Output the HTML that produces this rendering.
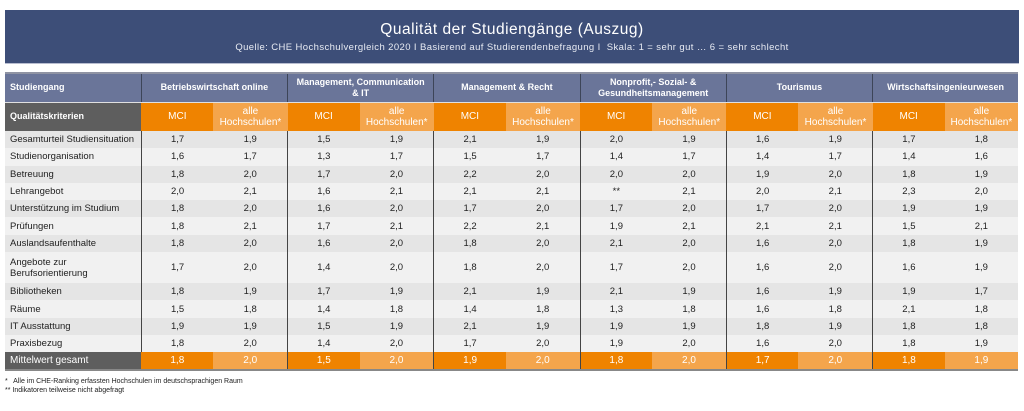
<!DOCTYPE html>
<html><head><meta charset="utf-8"><style>
*{margin:0;padding:0;box-sizing:border-box}
body{width:1024px;height:411px;background:#fff;font-family:"Liberation Sans","DejaVu Sans",sans-serif;position:relative;overflow:hidden}
.title{position:absolute;left:5px;top:10px;width:1014px;height:54px;background:#3d4e78;color:#fff;text-align:center;border-bottom:1px solid #b8bdd0}
.title .t{font-size:15.5px;margin-top:11px;letter-spacing:0.5px}
.title .s{font-size:9.5px;margin-top:3px;letter-spacing:0.4px;color:#e8ebf3}
table{position:absolute;left:5px;top:72px;border-collapse:collapse;table-layout:fixed;width:1013px;font-size:9.5px}
td{text-align:center;vertical-align:middle;padding:0;line-height:11px;color:#222}
td.l{text-align:left;padding-left:5px}
tr.h1 td{background:#6a7599;color:#fff;font-weight:bold;font-size:9px;height:29px;border-left:1px solid #3d4558;border-bottom:1px solid #e0e0e0}
tr.h1 td:first-child{border-left:none}
tr.h2 td{height:29px;color:#fff;font-size:10px}
tr.h2 td.g{background:#5e5e5e;font-weight:bold;font-size:9px}
.o{background:#ef8300}
.p{background:#f4a54c}
.b{border-left:1px solid #444}
tr.d td{height:17.3px}
tr.d:nth-child(odd) td{background:#e5e5e5}
tr.d:nth-child(even) td{background:#f1f1f1}
tr.d.tall td{height:31px}
tr.m td{height:17.3px;color:#fff;font-size:10px}
tr.m td.g{background:#5e5e5e}
tr.m td.o{background:#ef8300}
tr.m td.p{background:#f4a54c}
table{border-top:2px solid #8f93a3;border-bottom:2px solid #888}
.foot{position:absolute;left:5px;top:377px;font-size:7px;color:#222;line-height:9px}
</style></head><body>
<div class="title"><div class="t">Qualität der Studiengänge (Auszug)</div><div class="s">Quelle: CHE Hochschulvergleich 2020 I Basierend auf Studierendenbefragung I &nbsp;Skala: 1 = sehr gut … 6 = sehr schlecht</div></div>
<table>
<colgroup><col style="width:136px"><col style="width:72px"><col style="width:74px"><col style="width:72px"><col style="width:74px"><col style="width:72px"><col style="width:74px"><col style="width:72px"><col style="width:74px"><col style="width:72px"><col style="width:74px"><col style="width:72px"><col style="width:73px"></colgroup>
<tr class="h1"><td class="l">Studiengang</td><td colspan="2">Betriebswirtschaft online</td><td colspan="2">Management, Communication<br>&amp; IT</td><td colspan="2">Management &amp; Recht</td><td colspan="2">Nonprofit,- Sozial- &amp;<br>Gesundheitsmanagement</td><td colspan="2">Tourismus</td><td colspan="2">Wirtschaftsingenieurwesen</td></tr>
<tr class="h2"><td class="l g">Qualitätskriterien</td>
<td class="o">MCI</td><td class="p">alle<br>Hochschulen*</td><td class="o">MCI</td><td class="p">alle<br>Hochschulen*</td><td class="o">MCI</td><td class="p">alle<br>Hochschulen*</td><td class="o">MCI</td><td class="p">alle<br>Hochschulen*</td><td class="o">MCI</td><td class="p">alle<br>Hochschulen*</td><td class="o">MCI</td><td class="p">alle<br>Hochschulen*</td></tr>
<tr class="d"><td class="l">Gesamturteil Studiensituation</td><td class="b">1,7</td><td>1,9</td><td class="b">1,5</td><td>1,9</td><td class="b">2,1</td><td>1,9</td><td class="b">2,0</td><td>1,9</td><td class="b">1,6</td><td>1,9</td><td class="b">1,7</td><td>1,8</td></tr>
<tr class="d"><td class="l">Studienorganisation</td><td class="b">1,6</td><td>1,7</td><td class="b">1,3</td><td>1,7</td><td class="b">1,5</td><td>1,7</td><td class="b">1,4</td><td>1,7</td><td class="b">1,4</td><td>1,7</td><td class="b">1,4</td><td>1,6</td></tr>
<tr class="d"><td class="l">Betreuung</td><td class="b">1,8</td><td>2,0</td><td class="b">1,7</td><td>2,0</td><td class="b">2,2</td><td>2,0</td><td class="b">2,0</td><td>2,0</td><td class="b">1,9</td><td>2,0</td><td class="b">1,8</td><td>1,9</td></tr>
<tr class="d"><td class="l">Lehrangebot</td><td class="b">2,0</td><td>2,1</td><td class="b">1,6</td><td>2,1</td><td class="b">2,1</td><td>2,1</td><td class="b">**</td><td>2,1</td><td class="b">2,0</td><td>2,1</td><td class="b">2,3</td><td>2,0</td></tr>
<tr class="d"><td class="l">Unterstützung im Studium</td><td class="b">1,8</td><td>2,0</td><td class="b">1,6</td><td>2,0</td><td class="b">1,7</td><td>2,0</td><td class="b">1,7</td><td>2,0</td><td class="b">1,7</td><td>2,0</td><td class="b">1,9</td><td>1,9</td></tr>
<tr class="d"><td class="l">Prüfungen</td><td class="b">1,8</td><td>2,1</td><td class="b">1,7</td><td>2,1</td><td class="b">2,2</td><td>2,1</td><td class="b">1,9</td><td>2,1</td><td class="b">2,1</td><td>2,1</td><td class="b">1,5</td><td>2,1</td></tr>
<tr class="d"><td class="l">Auslandsaufenthalte</td><td class="b">1,8</td><td>2,0</td><td class="b">1,6</td><td>2,0</td><td class="b">1,8</td><td>2,0</td><td class="b">2,1</td><td>2,0</td><td class="b">1,6</td><td>2,0</td><td class="b">1,8</td><td>1,9</td></tr>
<tr class="d tall"><td class="l">Angebote zur<br>Berufsorientierung</td><td class="b">1,7</td><td>2,0</td><td class="b">1,4</td><td>2,0</td><td class="b">1,8</td><td>2,0</td><td class="b">1,7</td><td>2,0</td><td class="b">1,6</td><td>2,0</td><td class="b">1,6</td><td>1,9</td></tr>
<tr class="d"><td class="l">Bibliotheken</td><td class="b">1,8</td><td>1,9</td><td class="b">1,7</td><td>1,9</td><td class="b">2,1</td><td>1,9</td><td class="b">2,1</td><td>1,9</td><td class="b">1,6</td><td>1,9</td><td class="b">1,9</td><td>1,7</td></tr>
<tr class="d"><td class="l">Räume</td><td class="b">1,5</td><td>1,8</td><td class="b">1,4</td><td>1,8</td><td class="b">1,4</td><td>1,8</td><td class="b">1,3</td><td>1,8</td><td class="b">1,6</td><td>1,8</td><td class="b">2,1</td><td>1,8</td></tr>
<tr class="d"><td class="l">IT Ausstattung</td><td class="b">1,9</td><td>1,9</td><td class="b">1,5</td><td>1,9</td><td class="b">2,1</td><td>1,9</td><td class="b">1,9</td><td>1,9</td><td class="b">1,8</td><td>1,9</td><td class="b">1,8</td><td>1,8</td></tr>
<tr class="d"><td class="l">Praxisbezug</td><td class="b">1,8</td><td>2,0</td><td class="b">1,4</td><td>2,0</td><td class="b">1,7</td><td>2,0</td><td class="b">1,9</td><td>2,0</td><td class="b">1,6</td><td>2,0</td><td class="b">1,8</td><td>1,9</td></tr>
<tr class="m"><td class="l g">Mittelwert gesamt</td><td class="o">1,8</td><td class="p">2,0</td><td class="o b">1,5</td><td class="p">2,0</td><td class="o b">1,9</td><td class="p">2,0</td><td class="o b">1,8</td><td class="p">2,0</td><td class="o b">1,7</td><td class="p">2,0</td><td class="o b">1,8</td><td class="p">1,9</td></tr>
</table>
<div class="foot">*&nbsp;&nbsp; Alle im CHE-Ranking erfassten Hochschulen im deutschsprachigen Raum<br>** Indikatoren teilweise nicht abgefragt</div>
</body></html>
